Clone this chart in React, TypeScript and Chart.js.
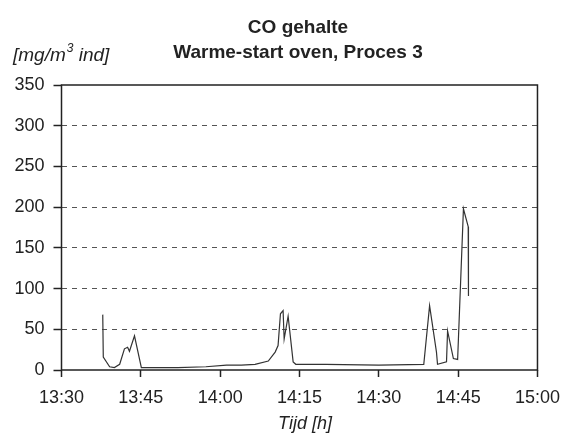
import React, { useEffect, useRef } from 'react';
import { Chart, registerables } from 'chart.js';

Chart.register(...registerables);

// minutes after 13:30
const minutes = [7.8, 7.9, 9.1, 10.0, 11.0, 11.9, 12.5, 12.85, 13.8, 15.1, 17, 22, 27.3, 31.2, 34, 36.6, 39.1, 40.4, 40.95, 41.4, 41.9, 42.1, 42.85, 43.8, 44.3, 50, 60, 68.5, 69.6, 70.9, 71.1, 72.8, 73.0, 74.1, 74.9, 76.0, 76.9, 76.95];
const coValues = [68, 16, 4, 3, 7, 26, 28, 23, 42, 3, 3, 3, 4, 6, 6, 7, 11, 22, 30, 69, 73, 38, 66, 10, 7, 7, 6, 7, 79, 22, 7, 10, 48, 14, 13, 198, 176, 91];

const xTickLabels = ['13:30', '13:45', '14:00', '14:15', '14:30', '14:45', '15:00'];
const yTicks = [0, 50, 100, 150, 200, 250, 300, 350];

const titleLines = ['CO gehalte', 'Warme-start oven, Proces 3'];
const xTitle = 'Tijd [h]';

const FONT = "'Liberation Sans', Arial, sans-serif";
const TEXT = '#222';

export default function App() {
  const ref = useRef<HTMLCanvasElement>(null);
  useEffect(() => {
    document.body.style.margin = '0';
    const canvas = ref.current!;
    const decor = {
      id: 'decor',
      beforeDraw(chart: any) {
        const c = chart.ctx;
        c.save();
        c.fillStyle = '#fff';
        c.fillRect(0, 0, chart.width, chart.height);
        c.restore();
      },
      afterDraw(chart: any) {
        const c = chart.ctx;
        const a = chart.chartArea;
        c.save();
        c.strokeStyle = '#222';
        c.lineWidth = 1.5;
        c.strokeRect(a.left, a.top, a.right - a.left, a.bottom - a.top);
        c.fillStyle = TEXT;
        c.textAlign = 'center';
        c.textBaseline = 'middle';
        c.font = `bold 19px ${FONT}`;
        c.fillText(titleLines[0], 298, 28);
        c.fillText(titleLines[1], 298, 53);
        c.font = `italic 18px ${FONT}`;
        c.fillText(xTitle, 305, 424);
        // unit label with superscript
        c.textAlign = 'left';
        let x = 13;
        const y = 56;
        c.font = `italic 19px ${FONT}`;
        c.fillText('[mg/m', x, y);
        x += c.measureText('[mg/m').width;
        c.font = `italic 12px ${FONT}`;
        c.fillText('3', x + 1, y - 7);
        x += c.measureText('3').width + 1;
        c.font = `italic 19px ${FONT}`;
        c.fillText(' ind]', x, y);
        c.restore();
      },
    };
    const chart = new Chart(canvas, {
      type: 'line',
      data: {
        datasets: [
          {
            data: minutes.map((m, i) => ({ x: m, y: coValues[i] })),
            borderColor: '#333',
            borderWidth: 1.2,
            pointRadius: 0,
            tension: 0,
            fill: false,
          },
        ],
      },
      options: {
        responsive: false,
        animation: false,
        layout: { padding: { top: 85, right: 28, left: 0, bottom: 0 } },
        plugins: { legend: { display: false }, tooltip: { enabled: false }, title: { display: false } },
        scales: {
          x: {
            type: 'linear',
            min: 0,
            max: 90,
            afterFit(scale: any) {
              scale.height = 64;
            },
            afterBuildTicks(scale: any) {
              scale.ticks = xTickLabels.map((_, i) => ({ value: i * 15 }));
            },
            ticks: {
              callback: (v: any) => xTickLabels[Math.round(Number(v) / 15)] ?? '',
              font: { family: FONT, size: 18 },
              color: TEXT,
              padding: 10,
              maxRotation: 0,
              autoSkip: false,
            },
            grid: {
              drawOnChartArea: false,
              drawTicks: true,
              tickLength: 7,
              tickColor: '#222',
              tickWidth: 1.5,
            },
            border: { display: false },
          },
          y: {
            min: 0,
            max: 350,
            afterFit(scale: any) {
              scale.width = 61.5;
            },
            afterBuildTicks(scale: any) {
              scale.ticks = yTicks.map((v) => ({ value: v }));
            },
            ticks: {
              font: { family: FONT, size: 18 },
              color: TEXT,
              padding: 9,
            },
            grid: {
              color: (ctx: any) => (ctx.tick && (ctx.tick.value === 0 || ctx.tick.value === 350) ? 'rgba(0,0,0,0)' : '#555'),
              lineWidth: 1,
              drawTicks: true,
              tickLength: 8,
              tickColor: '#222',
              tickWidth: 1.5,
            },
            border: { display: false, dash: [5, 5] },
          },
        },
      },
      plugins: [decor],
    });
    return () => chart.destroy();
  }, []);
  return (
    <div style={{ width: 570, height: 434 }}>
      <canvas ref={ref} width={570} height={434} />
    </div>
  );
}
